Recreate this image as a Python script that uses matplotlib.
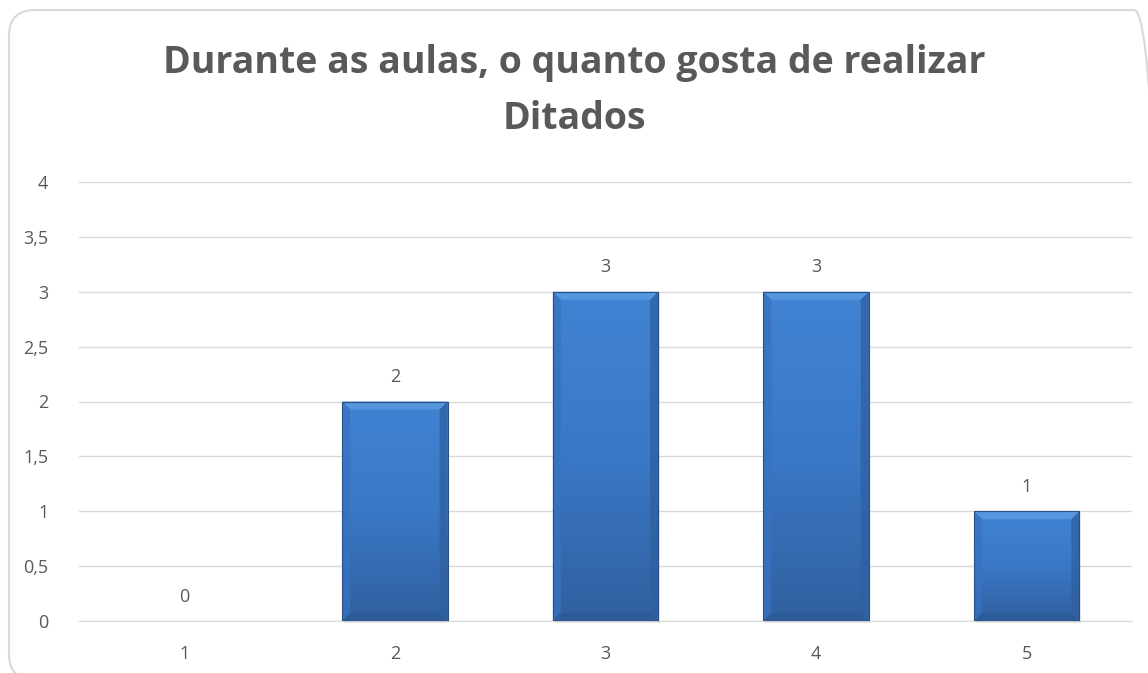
import numpy as np
import matplotlib.pyplot as plt
from matplotlib.patches import FancyBboxPatch, Polygon
from matplotlib.ticker import FuncFormatter

categorias = ["1", "2", "3", "4", "5"]
valores = [0, 2, 3, 3, 1]
titulo = "Durante as aulas, o quanto gosta de realizar\nDitados"

plt.rcParams["font.family"] = ["Open Sans", "DejaVu Sans"]
cinza = "#595959"

fig = plt.figure(figsize=(11.48, 6.73), dpi=100)

# moldura arredondada do gráfico (em polegadas)
moldura = FancyBboxPatch((0.09, -0.07), 11.51, 6.70, boxstyle="round,pad=0,rounding_size=0.26",
                         transform=fig.dpi_scale_trans, facecolor="none", zorder=-1,
                         edgecolor="#D9D9D9", linewidth=1.5)
fig.patches.append(moldura)

ax = fig.add_axes([79 / 1148, 1 - 621 / 673, (1132 - 79) / 1148, (621 - 182) / 673])
ax.set_facecolor("none")

x = np.arange(len(categorias))
barras = ax.bar(x, valores, width=0.5, color="#3A78C8", linewidth=0, zorder=3)

ax.set_xlim(-0.5, len(categorias) - 0.5)
ax.set_ylim(0, 4)
ax.set_yticks(np.arange(0, 4.01, 0.5))
ax.yaxis.set_major_formatter(FuncFormatter(lambda v, p: f"{v:g}".replace(".", ",")))
ax.set_xticks(x)
ax.set_xticklabels(categorias)
ax.grid(axis="y", color="#D9D9D9", linewidth=1, zorder=0)
for lado in ["top", "right", "left"]:
    ax.spines[lado].set_visible(False)
ax.spines["bottom"].set_color("#D9D9D9")
ax.tick_params(length=0, labelsize=13, colors=cinza, pad=17)
ax.tick_params(axis="y", pad=22)

# degradê e chanfro nas barras
gradiente = np.linspace(0, 1, 256).reshape(-1, 1)
cmap = plt.matplotlib.colors.LinearSegmentedColormap.from_list("azul", ["#30609F", "#3A78C6", "#4083D3"])
bx, by = 8 / 211, 8 / 439 * 4
for b, v in zip(barras, valores):
    if v <= 0:
        continue
    x0, w, h = b.get_x(), b.get_width(), b.get_height()
    # sombra leve à direita e abaixo
    ax.add_patch(plt.Rectangle((x0 + 0.008, -0.02), w, h, facecolor="#000000", alpha=0.08,
                               edgecolor="none", zorder=2.9, clip_on=False))
    im = ax.imshow(gradiente, extent=[x0, x0 + w, 0, h], origin="lower", cmap=cmap,
                   aspect="auto", zorder=3.1)
    im.set_clip_path(b)
    ax.add_patch(Polygon([(x0, h), (x0 + w, h), (x0 + w - bx, h - by), (x0 + bx, h - by)],
                         facecolor="#5597DE", edgecolor="none", zorder=3.2))
    ax.add_patch(Polygon([(x0, 0), (x0, h), (x0 + bx, h - by), (x0 + bx, by)],
                         facecolor="#3872C0", edgecolor="none", alpha=0.75, zorder=3.2))
    ax.add_patch(Polygon([(x0 + w, 0), (x0 + w, h), (x0 + w - bx, h - by), (x0 + w - bx, by)],
                         facecolor="#2F609F", edgecolor="none", alpha=0.75, zorder=3.2))
    ax.add_patch(Polygon([(x0, 0), (x0 + w, 0), (x0 + w - bx, by), (x0 + bx, by)],
                         facecolor="#2C5A97", edgecolor="none", alpha=0.8, zorder=3.2))
    ax.add_patch(plt.Rectangle((x0, 0), w, h, facecolor="none", edgecolor="#2A4F82",
                               linewidth=0.8, zorder=3.3))
ax.set_aspect("auto")

for xi, v in zip(x, valores):
    ax.annotate(f"{v}", (xi, v), xytext=(0, 11), textcoords="offset points",
                ha="center", va="bottom", fontsize=13, color=cinza)

fig.text(0.5, 1 - 91 / 673, titulo, ha="center", va="center", fontsize=27,
         fontweight="bold", color=cinza, linespacing=1.6)

fig.savefig("out.png", dpi=100)
